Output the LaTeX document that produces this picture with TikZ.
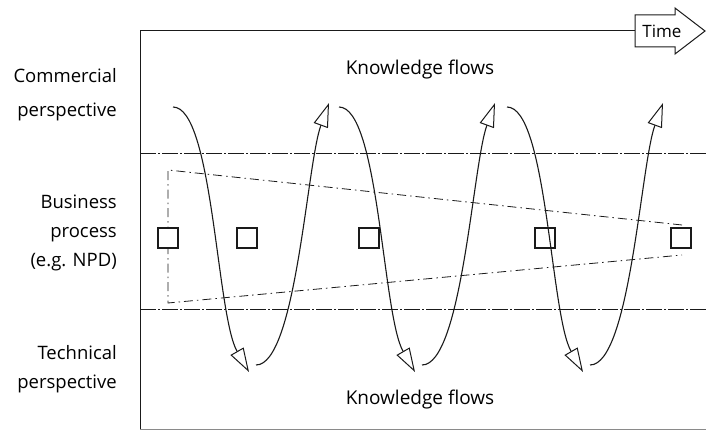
\documentclass[tikz,border=0pt]{standalone}
\usepackage{fontspec}
\setmainfont{Open Sans}
\usetikzlibrary{arrows.meta}
\definecolor{inkgray}{HTML}{1A1A1A}
\definecolor{framegray}{HTML}{8A8A8A}

\begin{document}
\begin{tikzpicture}[x=1pt,y=1pt,
  flow/.style={inkgray,line width=1.1pt,
    -{Triangle[open,length=24pt,width=15pt,line width=1pt]}},
  band/.style={inkgray,line width=0.8pt,dash pattern=on 16pt off 2pt on 2pt off 2pt},
  funnel/.style={inkgray,line width=0.8pt,dash pattern=on 9pt off 4pt on 1.5pt off 4pt},
  stage/.style={draw=inkgray,line width=1.2pt,fill=white,minimum size=20pt,inner sep=0pt},
  sidetext/.style={font=\fontsize{18.5}{29}\selectfont,align=right,anchor=east,inner sep=2pt},
  flowtext/.style={font=\fontsize{19}{22}\selectfont}]
  \useasboundingbox (0,0) rectangle (706,431);
  % frame and time axis
  \draw[framegray,line width=0.8pt] (140,2) -- (706,2);
  \draw[inkgray,line width=1pt] (140,2) -- (140,400) -- (635,400);
  \draw[inkgray,line width=1pt] (635,384) -- (675,384) -- (675,377) -- (705,400)
    -- (675,423) -- (675,416) -- (635,416) -- cycle;
  \node[font=\fontsize{17}{20}\selectfont] (time) at (662,400) {Time};
  % perspectives
  \node[sidetext] (comm) at (119,336) {Commercial\\[5pt]perspective};
  \node[sidetext] (busi) at (119,198) {Business\\process\\(e.g. NPD)};
  \node[sidetext] (tech) at (119,62) {Technical\\perspective};
  \draw[band] (140,278) -- (706,278);
  \draw[band] (140,122) -- (706,122);
  \node[flowtext] (kftop) at (420,361) {Knowledge flows};
  \node[flowtext] (kfbot) at (420,31) {Knowledge flows};
  % funnel of the business process
  \draw[funnel] (682,206) -- (168,261) -- (168,128) -- (682,176);
  \foreach \x [count=\i] in {168,247,369,545,681}
    \node[stage] (s\i) at (\x,193) {};
  % knowledge flows between the perspectives
  \foreach \dx [count=\n] in {0,166,334} {
    \coordinate (dstart\n) at (173+\dx,324);
    \coordinate (dtip\n) at (249+\dx,59);
    \coordinate (ustart\n) at (256+\dx,66);
    \coordinate (utip\n) at (329+\dx,328);
    \draw[flow] (dstart\n) to[out=0,in=120,out distance=40pt,in distance=65pt] (dtip\n);
    \draw[flow] (ustart\n) to[out=0,in=250,out distance=40pt,in distance=65pt] (utip\n);
  }
\end{tikzpicture}
\end{document}
